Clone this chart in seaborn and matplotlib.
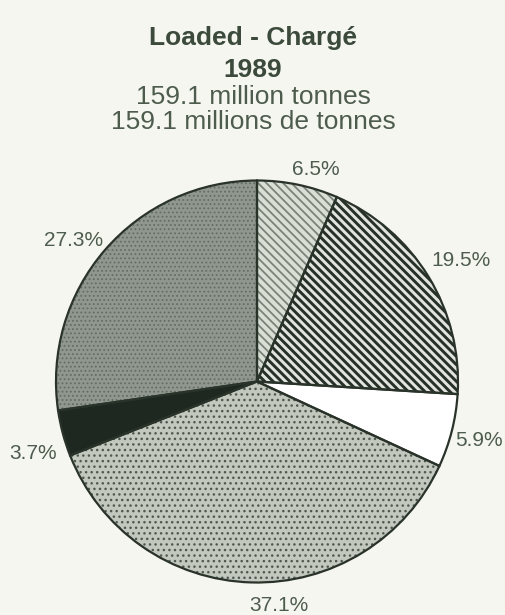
import numpy as np
import matplotlib
matplotlib.use("Agg")
import matplotlib.pyplot as plt
import seaborn as sns

sns.set_theme(style="white")
plt.rcParams["font.family"] = ["Liberation Sans", "DejaVu Sans"]

# data (clockwise from 12 o'clock)
shares = [6.5, 19.5, 5.9, 37.1, 3.7, 27.3]
shareLabels = ["6.5%", "19.5%", "5.9%", "37.1%", "3.7%", "27.3%"]
titleLines = ["Loaded - Chargé", "1989", "159.1 million tonnes", "159.1 millions de tonnes"]

# styling per slice
faceColors = ["#dadfd6", "#e2e5df", "#ffffff", "#c3c8bf", "#1f2820", "#90978f"]
hatchColors = ["#7a8379", "#263026", "#ffffff", "#4f584f", "#1f2820", "#646c63"]
hatches = ["\\\\\\\\", "\\\\\\\\", "", "...", "", "...."]
hatchWidths = [1.3, 2.1, 1.0, 1.0, 1.0, 0.8]
# label placement: (distance from centre, angle shift in degrees)
labelPlace = [(1.095, -3.9), (1.18, -0.8), (1.142, -0.7), (1.119, 7.3), (1.169, 3.0), (1.152, 3.4)]

bg = "#f6f6f1"
textColor = "#4d5c4d"
titleColor = "#3b4a3b"
outline = "#2a332a"

fig = plt.figure(figsize=(5.06, 6.15), dpi=100, facecolor=bg)
ax = fig.add_axes([56 / 506, (615 - 582.5) / 615, 402 / 506, 402 / 615])
ax.set_facecolor(bg)

wedges, _ = ax.pie(shares, startangle=90, counterclock=False, radius=1,
                   colors=faceColors, wedgeprops=dict(linewidth=0))
for w, hc, h, hw in zip(wedges, hatchColors, hatches, hatchWidths):
    w.set_edgecolor(hc)
    w.set_hatch(h)
    if hasattr(w, "set_hatch_linewidth"):
        w.set_hatch_linewidth(hw)
    w.set_linewidth(0)

# outline and slice borders
ax.pie(shares, startangle=90, counterclock=False, radius=1,
       colors=["none"] * len(shares),
       wedgeprops=dict(linewidth=1.6, edgecolor=outline, fill=False))

for w, lab, (dist, shift) in zip(wedges, shareLabels, labelPlace):
    ang = np.deg2rad((w.theta1 + w.theta2) / 2 + shift)
    ax.text(dist * np.cos(ang), dist * np.sin(ang), lab, ha="center", va="center",
            fontsize=15, color=textColor)

ax.set_xlim(-1, 1)
ax.set_ylim(-1, 1)
ax.set_aspect("equal")
ax.axis("off")

titleY = [45, 77, 104, 129]
for i, (line, y) in enumerate(zip(titleLines, titleY)):
    fig.text(0.5, 1 - y / 615, line, ha="center", va="baseline", fontsize=19,
             fontweight="bold" if i < 2 else "normal",
             color=titleColor if i < 2 else textColor)

fig.savefig("out.png", dpi=100, facecolor=bg)
